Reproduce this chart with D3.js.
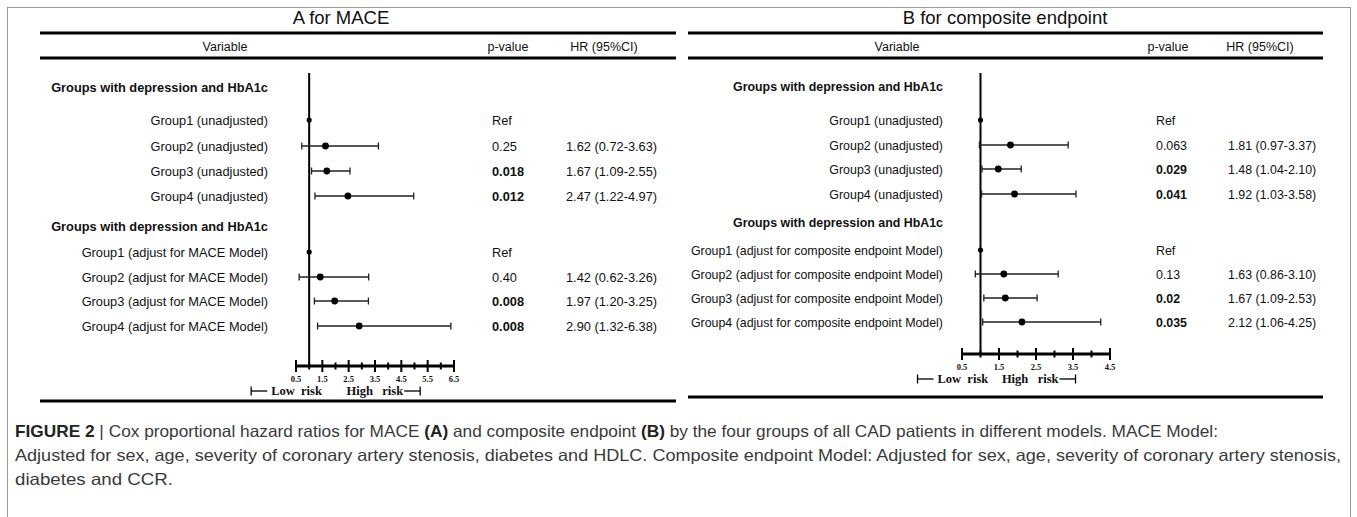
<!DOCTYPE html>
<html>
<head>
<meta charset="utf-8">
<script src="https://cdn.jsdelivr.net/npm/d3@7"></script>
<style>
  html, body { margin: 0; padding: 0; background: #fff; }
  svg { display: block; }
</style>
</head>
<body>
<svg id="chart" width="1357" height="517"></svg>
<script>
// ---- Data ---------------------------------------------------------------
const panelTitles = ["A for MACE", "B for composite endpoint"];
const columnHeaders = ["Variable", "p-value", "HR (95%CI)"];
const sectionHeader = "Groups with depression and HbA1c";

const labelsA = [
  "Group1 (unadjusted)", "Group2 (unadjusted)", "Group3 (unadjusted)", "Group4 (unadjusted)",
  "Group1 (adjust for MACE Model)", "Group2 (adjust for MACE Model)",
  "Group3 (adjust for MACE Model)", "Group4 (adjust for MACE Model)"
];
const hrA    = [1, 1.62, 1.67, 2.47, 1, 1.42, 1.97, 2.90];
const lowerA = [null, 0.72, 1.09, 1.22, null, 0.62, 1.20, 1.32];
const upperA = [null, 3.63, 2.55, 4.97, null, 3.26, 3.25, 6.38];
const pA     = ["Ref", "0.25", "0.018", "0.012", "Ref", "0.40", "0.008", "0.008"];
const ticksA = [0.5, 1.5, 2.5, 3.5, 4.5, 5.5, 6.5];

const labelsB = [
  "Group1 (unadjusted)", "Group2 (unadjusted)", "Group3 (unadjusted)", "Group4 (unadjusted)",
  "Group1 (adjust for composite endpoint Model)", "Group2 (adjust for composite endpoint Model)",
  "Group3 (adjust for composite endpoint Model)", "Group4 (adjust for composite endpoint Model)"
];
const hrB    = [1, 1.81, 1.48, 1.92, 1, 1.63, 1.67, 2.12];
const lowerB = [null, 0.97, 1.04, 1.03, null, 0.86, 1.09, 1.06];
const upperB = [null, 3.37, 2.10, 3.58, null, 3.10, 2.53, 4.25];
const pB     = ["Ref", "0.063", "0.029", "0.041", "Ref", "0.13", "0.02", "0.035"];
const ticksB = [0.5, 1.5, 2.5, 3.5, 4.5];

const riskLabels = ["Low  risk", "High   risk"];

const captionLines = [
  [["FIGURE 2", true], [" | ", false], ["Cox proportional hazard ratios for MACE ", false], ["(A)", true],
   [" and composite endpoint ", false], ["(B)", true],
   [" by the four groups of all CAD patients in different models. MACE Model:", false]],
  [["Adjusted for sex, age, severity of coronary artery stenosis, diabetes and HDLC. Composite endpoint Model: Adjusted for sex, age, severity of coronary artery stenosis,", false]],
  [["diabetes and CCR.", false]]
];

// ---- Layout -------------------------------------------------------------
const panels = [
  {
    title: panelTitles[0], labels: labelsA, hr: hrA, lower: lowerA, upper: upperA, p: pA, ticks: ticksA,
    x0: 40, x1: 676, titleX: 341, colX: [225, 508, 604],
    rowY: [120, 146, 171, 196, 252, 277, 301, 326], secY: [87, 226],
    labelRight: 268, pX: 492, hrX: 566, fs: 12.8,
    range: [296, 454], axisY: 366, refTop: 73, bottomY: 401,
    lowOff: -58, highOff: 111
  },
  {
    title: panelTitles[1], labels: labelsB, hr: hrB, lower: lowerB, upper: upperB, p: pB, ticks: ticksB,
    x0: 688, x1: 1323, titleX: 1005, colX: [897, 1168, 1260],
    rowY: [120, 145, 169, 194, 250, 274, 298, 322], secY: [86, 222],
    labelRight: 943, pX: 1156, hrX: 1228, fs: 12.4,
    range: [962, 1110], axisY: 354, refTop: 73, bottomY: 397,
    lowOff: -63, highOff: 95
  }
];

const svg = d3.select("#chart");
const SANS = "'Liberation Sans', Arial, sans-serif";
const SERIF = "'Liberation Serif', 'Times New Roman', serif";
const ink = "#111";

// outer frame
svg.append("rect")
  .attr("x", 7.5).attr("y", 7.5).attr("width", 1343).attr("height", 520)
  .attr("fill", "none").attr("stroke", "#9a9a9a").attr("stroke-width", 1);

const fmt = d3.format(".2f");

panels.forEach(P => {
  const g = svg.append("g");
  const x = d3.scaleLinear().domain([P.ticks[0], P.ticks[P.ticks.length - 1]]).range(P.range);

  // title
  g.append("text").attr("x", P.titleX).attr("y", 24).attr("text-anchor", "middle")
    .attr("font-family", SANS).attr("font-size", 18.5).attr("fill", ink).text(P.title);

  // table rules
  [33, 58, P.bottomY].forEach(yy => {
    g.append("line").attr("x1", P.x0).attr("x2", P.x1).attr("y1", yy).attr("y2", yy)
      .attr("stroke", "#000").attr("stroke-width", 3);
  });

  // column headers
  columnHeaders.forEach((h, i) => {
    g.append("text").attr("x", P.colX[i]).attr("y", 50.5).attr("text-anchor", "middle")
      .attr("font-family", SANS).attr("font-size", 12.5).attr("fill", ink).text(h);
  });

  // section headers
  P.secY.forEach(yy => {
    g.append("text").attr("x", P.labelRight).attr("y", yy + 4.5).attr("text-anchor", "end")
      .attr("font-family", SANS).attr("font-size", P.fs).attr("font-weight", "bold")
      .attr("fill", ink).text(sectionHeader);
  });

  const rows = P.labels.map((lab, i) => ({
    lab, y: P.rowY[i], hr: P.hr[i], lo: P.lower[i], hi: P.upper[i], p: P.p[i]
  }));

  // row labels
  g.selectAll(".lab").data(rows).join("text")
    .attr("x", P.labelRight).attr("y", d => d.y + 4.5).attr("text-anchor", "end")
    .attr("font-family", SANS).attr("font-size", P.fs).attr("fill", ink).text(d => d.lab);

  // p-values (bold when significant)
  g.selectAll(".pv").data(rows).join("text")
    .attr("x", P.pX).attr("y", d => d.y + 4.5)
    .attr("font-family", SANS).attr("font-size", P.fs)
    .attr("font-weight", d => (d.p !== "Ref" && +d.p < 0.05) ? "bold" : "normal")
    .attr("fill", ink).text(d => d.p);

  // HR (95% CI)
  g.selectAll(".hr").data(rows.filter(d => d.lo !== null)).join("text")
    .attr("x", P.hrX).attr("y", d => d.y + 4.5)
    .attr("font-family", SANS).attr("font-size", P.fs).attr("fill", ink)
    .text(d => `${fmt(d.hr)} (${fmt(d.lo)}-${fmt(d.hi)})`);

  // reference line at HR = 1
  g.append("line").attr("x1", x(1)).attr("x2", x(1)).attr("y1", P.refTop).attr("y2", P.axisY)
    .attr("stroke", "#000").attr("stroke-width", 2);

  // confidence intervals
  const ci = rows.filter(d => d.lo !== null);
  g.selectAll(".ci").data(ci).join("line")
    .attr("x1", d => x(d.lo)).attr("x2", d => x(d.hi)).attr("y1", d => d.y).attr("y2", d => d.y)
    .attr("stroke", "#222").attr("stroke-width", 1.3);
  ["lo", "hi"].forEach(k => {
    g.selectAll(".cap" + k).data(ci).join("line")
      .attr("x1", d => x(d[k])).attr("x2", d => x(d[k]))
      .attr("y1", d => d.y - 3.5).attr("y2", d => d.y + 3.5)
      .attr("stroke", "#222").attr("stroke-width", 1.3);
  });

  // point estimates
  g.selectAll(".pt").data(rows).join("circle")
    .attr("cx", d => x(d.hr)).attr("cy", d => d.y).attr("r", d => d.lo === null ? 2.6 : 3.4)
    .attr("fill", "#000");

  // x axis: labelled ticks at .5 steps, shorter ticks at integers
  const axisG = g.append("g").attr("transform", `translate(0,${P.axisY})`);
  const allTicks = d3.range(P.ticks[0], P.ticks[P.ticks.length - 1] + 0.01, 0.5);
  axisG.append("line").attr("x1", x.range()[0]).attr("x2", x.range()[1])
    .attr("stroke", "#000").attr("stroke-width", 3);
  axisG.selectAll(".tk").data(allTicks).join("line")
    .attr("x1", d => x(d)).attr("x2", d => x(d))
    .attr("y1", d => P.ticks.includes(d) ? -6 : -3.5)
    .attr("y2", d => P.ticks.includes(d) ? 6 : 3.5)
    .attr("stroke", "#000").attr("stroke-width", 2);
  axisG.selectAll(".tl").data(P.ticks).join("text")
    .attr("x", d => x(d)).attr("y", 15.5).attr("text-anchor", "middle")
    .attr("font-family", SERIF).attr("font-size", 8.5).attr("font-weight", "bold")
    .attr("fill", ink).text(d => d.toString());

  // risk direction markers
  const ry = P.axisY + 29;
  const mid = x(1);
  const lowStart = mid + P.lowOff, highEnd = mid + P.highOff;
  const mark = (x1, x2, bar) => {
    g.append("line").attr("x1", x1).attr("x2", x2).attr("y1", ry - 4).attr("y2", ry - 4)
      .attr("stroke", "#000").attr("stroke-width", 1.3);
    g.append("line").attr("x1", bar).attr("x2", bar).attr("y1", ry - 8.5).attr("y2", ry + 0.5)
      .attr("stroke", "#000").attr("stroke-width", 1.3);
  };
  mark(lowStart, lowStart + 16, lowStart);
  mark(highEnd - 16, highEnd, highEnd);
  g.append("text").attr("x", lowStart + 20).attr("y", ry)
    .attr("font-family", SERIF).attr("font-size", 12.5).attr("font-weight", "bold").attr("fill", ink)
    .attr("xml:space", "preserve").text(riskLabels[0]);
  g.append("text").attr("x", highEnd - 17).attr("y", ry).attr("text-anchor", "end")
    .attr("font-family", SERIF).attr("font-size", 12.5).attr("font-weight", "bold").attr("fill", ink)
    .attr("xml:space", "preserve").text(riskLabels[1]);
});

// ---- Caption --------------------------------------------------------------
const capFont = "'Liberation Sans Narrow', 'Arial Narrow', 'Liberation Sans', sans-serif";
const capWidths = [1203, 1326, 158];
captionLines.forEach((parts, i) => {
  const t = svg.append("text").attr("x", 15).attr("y", 437 + i * 24)
    .attr("font-family", capFont).attr("font-size", 16.5).attr("fill", "#3a3a3a")
    .attr("xml:space", "preserve");
  parts.forEach(([s, b]) => {
    t.append("tspan").attr("font-weight", b ? "bold" : "normal")
      .attr("fill", b ? "#222" : "#3a3a3a").text(s);
  });
  t.attr("textLength", capWidths[i]).attr("lengthAdjust", "spacingAndGlyphs");
});
</script>
</body>
</html>
